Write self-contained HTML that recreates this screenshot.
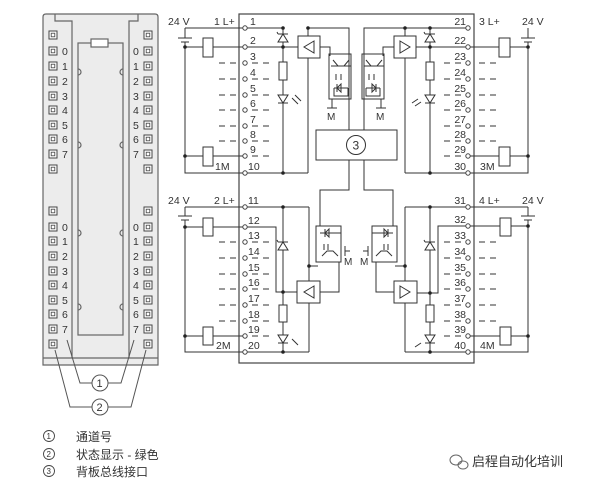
<!DOCTYPE html>
<html><head><meta charset="utf-8"><style>
html,body{margin:0;padding:0;background:#fff}
svg{display:block}
text{font-family:"Liberation Sans","Noto Sans CJK SC",sans-serif;fill:#333}
.n{font-size:10.5px}
</style></head><body>
<svg width="600" height="486" viewBox="0 0 600 486" xmlns="http://www.w3.org/2000/svg">
<defs>
<g id="sq"><rect x="-4" y="-4" width="8" height="8" fill="#fff" stroke="#444" stroke-width="1"/><rect x="-1.8" y="-1.8" width="3.6" height="3.6" fill="none" stroke="#444" stroke-width="0.8"/></g>
<g id="tc"><circle r="2.2" fill="#fff" stroke="#444" stroke-width="1"/></g>
<g id="zd" stroke="#333" stroke-width="1" fill="#fff"><polygon points="-5,4 5,4 0,-4"/><line x1="-5" y1="-4" x2="5" y2="-4"/><line x1="-5" y1="-4" x2="-6" y2="-6"/></g>
<g id="led" stroke="#333" stroke-width="1" fill="#fff"><polygon points="-5,-4 5,-4 0,4"/><line x1="-5" y1="4" x2="5" y2="4"/></g>
<g id="dash"><line x1="0" y1="0" x2="17" y2="0" stroke="#333" stroke-width="1" stroke-dasharray="6 5"/></g>
</defs>

<!-- LEFT MODULE -->
<g stroke="#666" stroke-width="1.2" fill="none">
<path d="M43,17 Q43,14 46,14 H155 Q158,14 158,17 V365 H43 Z" fill="#ececec"/>
<path d="M55,14 V21 H72 V358"/>
<path d="M138,14 V21 H129 V358"/>
<line x1="43" y1="358" x2="158" y2="358"/>
<rect x="78" y="43" width="45" height="292" fill="#ececec"/>
<rect x="91" y="39" width="17" height="8" fill="#fff"/>
<path d="M78,69 a3,3 0 0 1 0,6 M78,142 a3,3 0 0 1 0,6 M78,230 a3,3 0 0 1 0,6 M78,304 a3,3 0 0 1 0,6"/>
<path d="M123,69 a3,3 0 0 0 0,6 M123,142 a3,3 0 0 0 0,6 M123,230 a3,3 0 0 0 0,6 M123,304 a3,3 0 0 0 0,6"/>
</g>
<g>
<use href="#sq" x="53" y="35"/><use href="#sq" x="53" y="51"/><use href="#sq" x="53" y="66"/><use href="#sq" x="53" y="81"/><use href="#sq" x="53" y="96"/><use href="#sq" x="53" y="110"/><use href="#sq" x="53" y="125"/><use href="#sq" x="53" y="139"/><use href="#sq" x="53" y="154"/><use href="#sq" x="53" y="169"/>
<use href="#sq" x="148" y="35"/><use href="#sq" x="148" y="51"/><use href="#sq" x="148" y="66"/><use href="#sq" x="148" y="81"/><use href="#sq" x="148" y="96"/><use href="#sq" x="148" y="110"/><use href="#sq" x="148" y="125"/><use href="#sq" x="148" y="139"/><use href="#sq" x="148" y="154"/><use href="#sq" x="148" y="169"/>
<use href="#sq" x="53" y="211"/><use href="#sq" x="53" y="227"/><use href="#sq" x="53" y="241"/><use href="#sq" x="53" y="256"/><use href="#sq" x="53" y="271"/><use href="#sq" x="53" y="285"/><use href="#sq" x="53" y="300"/><use href="#sq" x="53" y="314"/><use href="#sq" x="53" y="329"/><use href="#sq" x="53" y="344"/>
<use href="#sq" x="148" y="211"/><use href="#sq" x="148" y="227"/><use href="#sq" x="148" y="241"/><use href="#sq" x="148" y="256"/><use href="#sq" x="148" y="271"/><use href="#sq" x="148" y="285"/><use href="#sq" x="148" y="300"/><use href="#sq" x="148" y="314"/><use href="#sq" x="148" y="329"/><use href="#sq" x="148" y="344"/>
</g>
<g class="n">
<text x="62" y="55">0</text><text x="62" y="70">1</text><text x="62" y="85">2</text><text x="62" y="100">3</text><text x="62" y="114">4</text><text x="62" y="129">5</text><text x="62" y="143">6</text><text x="62" y="158">7</text>
<text x="133" y="55">0</text><text x="133" y="70">1</text><text x="133" y="85">2</text><text x="133" y="100">3</text><text x="133" y="114">4</text><text x="133" y="129">5</text><text x="133" y="143">6</text><text x="133" y="158">7</text>
<text x="62" y="231">0</text><text x="62" y="245">1</text><text x="62" y="260">2</text><text x="62" y="275">3</text><text x="62" y="289">4</text><text x="62" y="304">5</text><text x="62" y="318">6</text><text x="62" y="333">7</text>
<text x="133" y="231">0</text><text x="133" y="245">1</text><text x="133" y="260">2</text><text x="133" y="275">3</text><text x="133" y="289">4</text><text x="133" y="304">5</text><text x="133" y="318">6</text><text x="133" y="333">7</text>
</g>
<g stroke="#555" stroke-width="1" fill="none">
<path d="M67,340 L80,383 H92"/><path d="M134,340 L121,383 H108"/>
<path d="M55,350 L70,407 H92"/><path d="M146,350 L131,407 H108"/>
<circle cx="100" cy="383" r="8" fill="#fff"/><circle cx="100" cy="407" r="8" fill="#fff"/>
</g>
<text x="96.5" y="387" font-size="11">1</text><text x="96.5" y="411" font-size="11">2</text>

<!-- legend -->
<g stroke="#444" stroke-width="0.9" fill="none"><circle cx="49" cy="436" r="5.5"/><circle cx="49" cy="454" r="5.5"/><circle cx="49" cy="471" r="5.5"/></g>
<g font-size="8"><text x="46.5" y="439">1</text><text x="46.5" y="457">2</text><text x="46.5" y="474">3</text></g>
<g font-size="12"><text x="76" y="441">通道号</text><text x="76" y="459">状态显示 - 绿色</text><text x="76" y="476">背板总线接口</text></g>

<!-- watermark -->
<g stroke="#666" stroke-width="1" fill="none"><ellipse cx="456" cy="460" rx="6" ry="5"/><ellipse cx="463" cy="465" rx="5" ry="4"/></g>
<text x="472" y="466" font-size="13" fill="#444">启程自动化培训</text>

<!-- CENTRAL BOX -->
<rect x="239" y="14" width="235" height="349" fill="none" stroke="#444" stroke-width="1.2"/>

<g stroke="#333" stroke-width="1" fill="none">
<!-- upper left -->
<path d="M185,28 H283 M185,28 V38 M178,38 H192 M181,42 H189 M185,42 V173 H308"/>
<path d="M185,47 H203 M213,47 H298 M185,156 H203 M213,156 H245"/>
<rect x="203" y="38" width="10" height="19" fill="#fff"/><rect x="203" y="147" width="10" height="19" fill="#fff"/>
<path d="M283,28 V173"/><rect x="279" y="62" width="8" height="18" fill="#fff"/>
<rect x="298" y="36" width="22" height="22" fill="#fff"/><polygon points="314,41 304,47 314,53"/>
<path d="M308,58 V173 M308,36 V28 H349 V130 M320,47 H330 V56"/>
<rect x="329" y="54" width="22" height="45"/>
<path d="M333,60 L338,66 H344 L349,60 M331,66 H351 M336,74 V80 M341,74 V80 M334,88 H348 M341,84 L337,88 L341,92 Z M337,84 V92 M334,88 V96 H348 V88 M332,99 V108 M327,108 H337"/>
<!-- upper right -->
<path d="M528,28 V38 M521,38 H535 M524,42 H532 M528,42 V173 H405 M430,28 H364 V130 M405,28 V36"/>
<path d="M528,47 H510 M499,47 H416 M528,156 H510 M499,156 H468"/>
<rect x="499" y="38" width="11" height="19" fill="#fff"/><rect x="499" y="147" width="11" height="19" fill="#fff"/>
<path d="M468,28 H430 V173"/><rect x="426" y="62" width="8" height="18" fill="#fff"/>
<rect x="394" y="36" width="22" height="22" fill="#fff"/><polygon points="400,41 410,47 400,53"/>
<path d="M405,58 V173 M394,47 H383 V56"/>
<rect x="362" y="54" width="22" height="45"/>
<path d="M366,60 L371,66 H377 L382,60 M364,66 H384 M369,74 V80 M374,74 V80 M366,88 H380 M372,84 L376,88 L372,92 Z M376,84 V92 M366,88 V96 H380 V88 M381,99 V108 M376,108 H386"/>
<rect x="316" y="130" width="81" height="30" fill="#fff"/>
<!-- links to lower -->
<path d="M349,160 V190 H320 V226 M364,160 V190 H393 V226"/>
<!-- lower left -->
<path d="M185,207 H309 M185,207 V216 M178,216 H192 M181,220 H189 M185,220 V352 H309"/>
<path d="M185,227 H203 M213,227 H276 V292 H297 M185,336 H203 M213,336 H245"/>
<rect x="203" y="218" width="10" height="18" fill="#fff"/><rect x="203" y="327" width="10" height="18" fill="#fff"/>
<path d="M283,207 V352"/><rect x="279" y="305" width="8" height="17" fill="#fff"/>
<rect x="297" y="281" width="23" height="22" fill="#fff"/><polygon points="314,286 304,292 314,298"/>
<path d="M309,207 V281 M309,303 V352 M309,266 H318 M320,292 H339 V262"/>
<rect x="316" y="226" width="25" height="36"/>
<path d="M320,233 H338 M329,229 L325,233 L329,237 Z M325,229 V237 M333,233 H341 V247 M345,251 H350 M345,246 V256 M324,244 V250 M328,244 V250 M322,256 L327,251 H333 L338,256"/>
<!-- lower right -->
<path d="M528,207 H405 M528,207 V216 M521,216 H535 M524,220 H532 M528,220 V352 H405"/>
<path d="M528,226 H511 M500,226 H438 V293 H417 M528,336 H511 M500,336 H468"/>
<rect x="500" y="218" width="11" height="18" fill="#fff"/><rect x="500" y="327" width="11" height="18" fill="#fff"/>
<path d="M430,207 V352"/><rect x="426" y="305" width="8" height="17" fill="#fff"/>
<rect x="394" y="281" width="23" height="22" fill="#fff"/><polygon points="400,286 410,292 400,298"/>
<path d="M405,207 V281 M405,303 V352 M405,266 H395 M394,292 H376 V262"/>
<rect x="372" y="226" width="25" height="36"/>
<path d="M375,233 H393 M384,229 L388,233 L384,237 Z M388,229 V237 M380,233 H372 V247 M368,251 H363 M368,246 V256 M384,244 V250 M388,244 V250 M376,256 L381,251 H387 L392,256"/>
</g>
<circle cx="356" cy="145" r="9.5" fill="#fff" stroke="#333" stroke-width="1"/>
<text x="352.5" y="149.5" font-size="12">3</text>
<g font-size="10"><text x="327" y="120">M</text><text x="376" y="120">M</text><text x="344" y="265">M</text><text x="360" y="265">M</text></g>
<use href="#zd" x="283" y="38"/><use href="#led" x="283" y="99"/><use href="#zd" x="430" y="38"/><use href="#led" x="430" y="99"/>
<use href="#zd" x="283" y="246"/><use href="#led" x="283" y="339"/><use href="#zd" x="430" y="246"/><use href="#led" x="430" y="339"/>
<g stroke="#333" stroke-width="1"><path d="M292,98 L298,104 M295,95 L301,101 M421,102 L415,106 M418,99 L412,103 M292,339 L298,345 M421,343 L415,347"/></g>
<g fill="#222"><circle cx="185" cy="47" r="1.8"/><circle cx="185" cy="156" r="1.8"/><circle cx="283" cy="28" r="1.8"/><circle cx="283" cy="47" r="1.8"/><circle cx="283" cy="173" r="1.8"/><circle cx="308" cy="28" r="1.8"/>
<circle cx="528" cy="47" r="1.8"/><circle cx="528" cy="156" r="1.8"/><circle cx="430" cy="28" r="1.8"/><circle cx="430" cy="47" r="1.8"/><circle cx="430" cy="173" r="1.8"/><circle cx="405" cy="28" r="1.8"/>
<circle cx="185" cy="227" r="1.8"/><circle cx="185" cy="336" r="1.8"/><circle cx="283" cy="207" r="1.8"/><circle cx="283" cy="292" r="1.8"/><circle cx="283" cy="352" r="1.8"/><circle cx="309" cy="266" r="1.8"/>
<circle cx="528" cy="226" r="1.8"/><circle cx="528" cy="336" r="1.8"/><circle cx="430" cy="207" r="1.8"/><circle cx="430" cy="293" r="1.8"/><circle cx="430" cy="352" r="1.8"/><circle cx="405" cy="266" r="1.8"/></g>

<!-- terminal circles -->
<g>
<use href="#tc" x="245" y="28"/><use href="#tc" x="245" y="47"/><use href="#tc" x="245" y="63"/><use href="#tc" x="245" y="79"/><use href="#tc" x="245" y="95"/><use href="#tc" x="245" y="110"/><use href="#tc" x="245" y="126"/><use href="#tc" x="245" y="141"/><use href="#tc" x="245" y="156"/><use href="#tc" x="245" y="173"/>
<use href="#tc" x="468" y="28"/><use href="#tc" x="468" y="47"/><use href="#tc" x="468" y="63"/><use href="#tc" x="468" y="79"/><use href="#tc" x="468" y="95"/><use href="#tc" x="468" y="110"/><use href="#tc" x="468" y="126"/><use href="#tc" x="468" y="141"/><use href="#tc" x="468" y="156"/><use href="#tc" x="468" y="173"/>
<use href="#tc" x="245" y="207"/><use href="#tc" x="245" y="227"/><use href="#tc" x="245" y="242"/><use href="#tc" x="245" y="258"/><use href="#tc" x="245" y="274"/><use href="#tc" x="245" y="289"/><use href="#tc" x="245" y="305"/><use href="#tc" x="245" y="321"/><use href="#tc" x="245" y="336"/><use href="#tc" x="245" y="352"/>
<use href="#tc" x="468" y="207"/><use href="#tc" x="468" y="226"/><use href="#tc" x="468" y="242"/><use href="#tc" x="468" y="258"/><use href="#tc" x="468" y="274"/><use href="#tc" x="468" y="289"/><use href="#tc" x="468" y="305"/><use href="#tc" x="468" y="321"/><use href="#tc" x="468" y="336"/><use href="#tc" x="468" y="352"/>
</g>
<!-- dashes -->
<g>
<use href="#dash" x="219" y="63"/><use href="#dash" x="219" y="79"/><use href="#dash" x="219" y="95"/><use href="#dash" x="219" y="110"/><use href="#dash" x="219" y="126"/><use href="#dash" x="219" y="141"/>
<use href="#dash" x="252" y="63"/><use href="#dash" x="252" y="79"/><use href="#dash" x="252" y="95"/><use href="#dash" x="252" y="110"/><use href="#dash" x="252" y="126"/><use href="#dash" x="252" y="141"/><use href="#dash" x="252" y="156"/>
<use href="#dash" x="444" y="63"/><use href="#dash" x="444" y="79"/><use href="#dash" x="444" y="95"/><use href="#dash" x="444" y="110"/><use href="#dash" x="444" y="126"/><use href="#dash" x="444" y="141"/><use href="#dash" x="444" y="156"/>
<use href="#dash" x="479" y="63"/><use href="#dash" x="479" y="79"/><use href="#dash" x="479" y="95"/><use href="#dash" x="479" y="110"/><use href="#dash" x="479" y="126"/><use href="#dash" x="479" y="141"/>
<use href="#dash" x="219" y="242"/><use href="#dash" x="219" y="258"/><use href="#dash" x="219" y="274"/><use href="#dash" x="219" y="289"/><use href="#dash" x="219" y="305"/><use href="#dash" x="219" y="321"/>
<use href="#dash" x="252" y="242"/><use href="#dash" x="252" y="258"/><use href="#dash" x="252" y="274"/><use href="#dash" x="252" y="289"/><use href="#dash" x="252" y="305"/><use href="#dash" x="252" y="321"/><use href="#dash" x="252" y="336"/>
<use href="#dash" x="444" y="242"/><use href="#dash" x="444" y="258"/><use href="#dash" x="444" y="274"/><use href="#dash" x="444" y="289"/><use href="#dash" x="444" y="305"/><use href="#dash" x="444" y="321"/><use href="#dash" x="444" y="336"/>
<use href="#dash" x="479" y="242"/><use href="#dash" x="479" y="258"/><use href="#dash" x="479" y="274"/><use href="#dash" x="479" y="289"/><use href="#dash" x="479" y="305"/><use href="#dash" x="479" y="321"/>
</g>
<!-- labels -->
<g class="n">
<text x="168" y="25">24 V</text><text x="214" y="25">1 L+</text><text x="215" y="170">1M</text>
<text x="168" y="204">24 V</text><text x="214" y="204">2 L+</text><text x="216" y="349">2M</text>
<text x="479" y="25">3 L+</text><text x="522" y="25">24 V</text><text x="480" y="170">3M</text>
<text x="479" y="204">4 L+</text><text x="522" y="204">24 V</text><text x="480" y="349">4M</text>
</g>
<g class="n">
<text x="250" y="25">1</text><text x="250" y="44">2</text><text x="250" y="60">3</text><text x="250" y="76">4</text><text x="250" y="92">5</text><text x="250" y="107">6</text><text x="250" y="123">7</text><text x="250" y="138">8</text><text x="250" y="153">9</text><text x="248" y="170">10</text>
<text x="248" y="204">11</text><text x="248" y="224">12</text><text x="248" y="239">13</text><text x="248" y="255">14</text><text x="248" y="271">15</text><text x="248" y="286">16</text><text x="248" y="302">17</text><text x="248" y="318">18</text><text x="248" y="333">19</text><text x="248" y="349">20</text>
</g>
<g class="n" text-anchor="end">
<text x="466" y="25">21</text><text x="466" y="44">22</text><text x="466" y="60">23</text><text x="466" y="76">24</text><text x="466" y="92">25</text><text x="466" y="107">26</text><text x="466" y="123">27</text><text x="466" y="138">28</text><text x="466" y="153">29</text><text x="466" y="170">30</text>
<text x="466" y="204">31</text><text x="466" y="223">32</text><text x="466" y="239">33</text><text x="466" y="255">34</text><text x="466" y="271">35</text><text x="466" y="286">36</text><text x="466" y="302">37</text><text x="466" y="318">38</text><text x="466" y="333">39</text><text x="466" y="349">40</text>
</g>
</svg>
</body></html>
